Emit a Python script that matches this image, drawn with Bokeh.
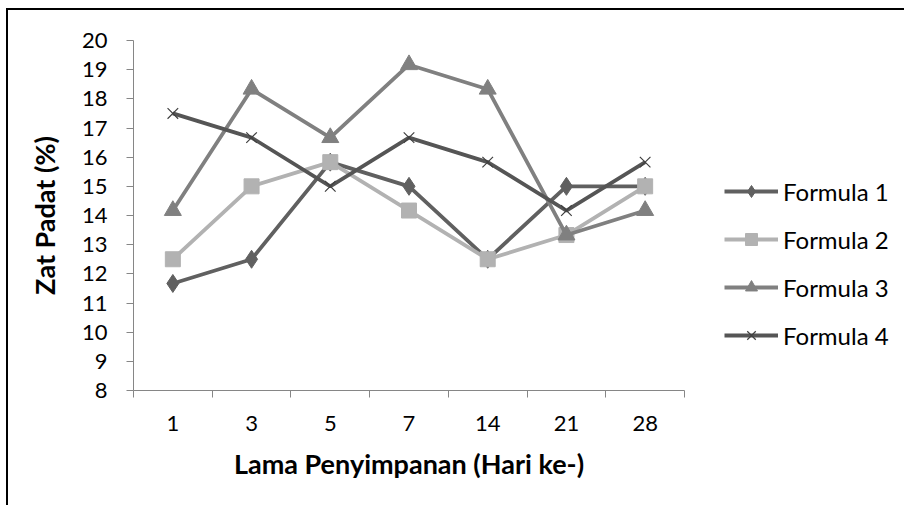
from bokeh.plotting import figure
from bokeh.models import FixedTicker, Legend, LegendItem, ColumnDataSource
from bokeh.embed import file_html
from bokeh.resources import INLINE

categories = ["1", "3", "5", "7", "14", "21", "28"]
formula1 = [11.67, 12.5, 15.83, 15.0, 12.5, 15.0, 15.0]
formula2 = [12.5, 15.0, 15.83, 14.17, 12.5, 13.33, 15.0]
formula3 = [14.17, 18.33, 16.67, 19.17, 18.33, 13.33, 14.17]
formula4 = [17.5, 16.67, 15.0, 16.67, 15.83, 14.17, 15.83]
series_names = ["Formula 1", "Formula 2", "Formula 3", "Formula 4"]
y_ticks = list(range(8, 21))

FONT = "Lato"
xpos = [i + 0.5 for i in range(len(categories))]

p = figure(frame_width=551, frame_height=350, output_backend="svg", toolbar_location=None,
           x_range=(0, len(categories)), y_range=(8, 20),
           min_border_left=125, min_border_top=30, min_border_right=0, min_border_bottom=115)
p.styles = {"border-left": "2px solid #000000", "border-top": "2px solid #000000",
            "margin-left": "6px", "margin-top": "8px"}
p.outline_line_color = None
p.xgrid.visible = False
p.ygrid.visible = False
p.background_fill_color = "white"
p.border_fill_color = "white"

# y axis
p.yaxis.ticker = FixedTicker(ticks=y_ticks)
p.yaxis.minor_tick_line_color = None
p.yaxis.major_tick_in = 0
p.yaxis.major_tick_out = 7
p.yaxis.axis_line_color = "#868686"
p.yaxis.major_tick_line_color = "#868686"
p.yaxis.major_label_text_font = FONT
p.yaxis.major_label_text_font_size = "22px"
p.yaxis.major_label_text_color = "#000000"
p.yaxis.major_label_standoff = 19
p.yaxis.axis_label = "Zat Padat (%)"
p.yaxis.axis_label_text_font = FONT
p.yaxis.axis_label_text_font_style = "bold"
p.yaxis.axis_label_text_font_size = "27px"
p.yaxis.axis_label_text_color = "#000000"
p.yaxis.axis_label_standoff = 18

# x axis
p.xaxis.ticker = FixedTicker(ticks=xpos, minor_ticks=list(range(len(categories) + 1)))
p.xaxis.major_label_overrides = {x: c for x, c in zip(xpos, categories)}
p.xaxis.major_tick_line_color = None
p.xaxis.major_tick_in = 0
p.xaxis.major_tick_out = 0
p.xaxis.minor_tick_in = 0
p.xaxis.minor_tick_out = 7
p.xaxis.minor_tick_line_color = "#868686"
p.xaxis.axis_line_color = "#868686"
p.xaxis.major_label_text_font = FONT
p.xaxis.major_label_text_font_size = "22px"
p.xaxis.major_label_text_color = "#000000"
p.xaxis.major_label_standoff = 18
p.xaxis.axis_label = "Lama Penyimpanan (Hari ke-)"
p.xaxis.axis_label_text_font = FONT
p.xaxis.axis_label_text_font_style = "bold"
p.xaxis.axis_label_text_font_size = "27px"
p.xaxis.axis_label_text_color = "#000000"
p.xaxis.axis_label_standoff = 13

LW = 3.8
items = []

s1 = ColumnDataSource(dict(x=xpos, y=formula1))
l1 = p.line("x", "y", source=s1, line_color="#606060", line_width=LW)
m1 = p.scatter("x", "y", source=s1, marker="diamond", size=18, fill_color="#606060", line_color="#606060")
items.append(LegendItem(label=series_names[0], renderers=[l1, m1]))

s2 = ColumnDataSource(dict(x=xpos, y=formula2))
l2 = p.line("x", "y", source=s2, line_color="#b2b2b2", line_width=LW)
m2 = p.scatter("x", "y", source=s2, marker="square", size=15, fill_color="#b2b2b2", line_color="#b2b2b2")
items.append(LegendItem(label=series_names[1], renderers=[l2, m2]))

s3 = ColumnDataSource(dict(x=xpos, y=formula3))
l3 = p.line("x", "y", source=s3, line_color="#808080", line_width=LW)
m3 = p.scatter("x", "y", source=s3, marker="triangle", size=17, fill_color="#808080", line_color="#808080")
items.append(LegendItem(label=series_names[2], renderers=[l3, m3]))

s4 = ColumnDataSource(dict(x=xpos, y=formula4))
l4 = p.line("x", "y", source=s4, line_color="#555555", line_width=LW)
m4 = p.scatter("x", "y", source=s4, marker="x", size=15, line_color="#404040", line_width=1.2)
items.append(LegendItem(label=series_names[3], renderers=[l4, m4]))

legend = Legend(items=items, location=(40, 40))
legend.background_fill_alpha = 0
legend.border_line_color = None
legend.padding = 0
legend.margin = 0
legend.glyph_width = 54
legend.glyph_height = 30
legend.label_height = 30
legend.spacing = 18
legend.label_standoff = 5
legend.label_text_font = FONT
legend.label_text_font_size = "24px"
legend.label_text_color = "#000000"
p.add_layout(legend, "right")

open("out.html", "w").write(file_html(p, INLINE))
